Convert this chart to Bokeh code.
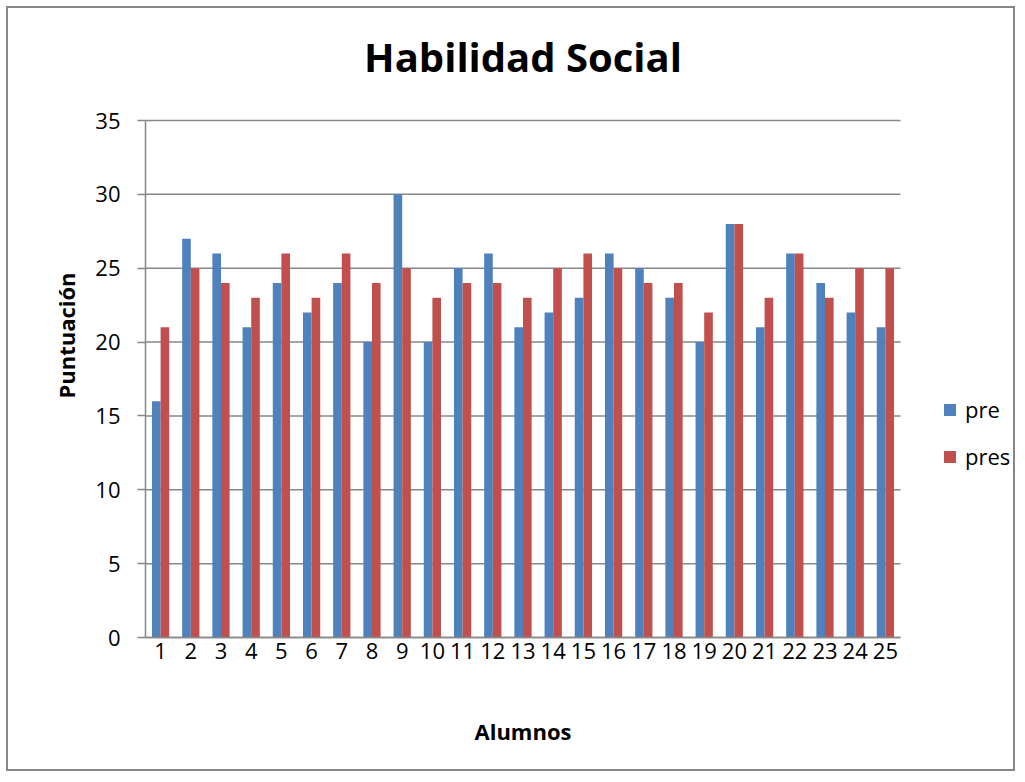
import math
import numpy as np
from bokeh.plotting import figure
from bokeh.models import Range1d, Legend, LegendItem, FixedTicker, ColumnDataSource, Label
from bokeh.transform import dodge
from bokeh.embed import file_html
from bokeh.resources import INLINE

alumnos = [str(i) for i in range(1, 26)]
pre = [16, 27, 26, 21, 24, 22, 24, 20, 30, 20, 25, 26, 21, 22, 23, 26, 25, 23, 20, 28, 21, 26, 24, 22, 21]
pres = [21, 25, 24, 23, 26, 23, 26, 24, 25, 23, 24, 24, 23, 25, 26, 25, 24, 24, 22, 28, 23, 26, 23, 25, 25]
y_ticks = [0, 5, 10, 15, 20, 25, 30, 35]

title_text = "Habilidad Social"
x_title = "Alumnos"
y_title = "Puntuación"

BLUE = "#4F81BD"
RED = "#C0504D"
GRID = "#878787"
FONT = "Open Sans"

n = len(alumnos)
pos = list(np.arange(1, n + 1))
src = ColumnDataSource(dict(pos=pos, alumnos=alumnos, pre=pre, pres=pres))

# Layout: the plot frame covers the whole canvas; axes are pinned at x=0.5 / y=0.
W, H = 1009, 765
ORIGIN = 8                      # canvas top-left in page pixels
AX_L, AX_R = 145, 900           # page x of category axis ends
AX_T, AX_B = 120, 637           # page y of 35 and 0
ymax = y_ticks[-1]
xpx = (AX_R - AX_L) / n
ypx = (AX_B - AX_T) / ymax
x0 = 0.5 - (AX_L - ORIGIN) / xpx
y0 = -(ORIGIN + H - AX_B) / ypx

def px_x(px):
    return 0.5 + (px - AX_L) / xpx

def px_y(py):
    return (AX_B - py) / ypx

p = figure(x_range=Range1d(x0, x0 + W / xpx), y_range=Range1d(y0, y0 + H / ypx),
           width=W, height=H, output_backend="svg", toolbar_location=None,
           min_border_left=0, min_border_right=0, min_border_top=0, min_border_bottom=0)
p.styles = {"border": "2px solid #878787", "margin": "6px 0 0 6px"}
p.outline_line_color = None
p.background_fill_color = "white"
p.border_fill_color = "white"
p.title.visible = False

bw = 1.0 / 3.5
r1 = p.vbar(x=dodge("pos", -bw / 2), top="pre", width=bw, source=src,
            fill_color=BLUE, line_color=None)
r2 = p.vbar(x=dodge("pos", bw / 2), top="pres", width=bw, source=src,
            fill_color=RED, line_color=None)

p.xgrid.visible = False
p.ygrid.visible = False
p.segment(x0=0.5, x1=n + 0.5, y0=y_ticks, y1=y_ticks, line_color=GRID, line_width=1.5, level="underlay")

yax = p.yaxis[0]
yax.fixed_location = 0.5
yax.bounds = (0, ymax)
yax.ticker = FixedTicker(ticks=y_ticks)
yax.minor_tick_line_color = None
yax.major_tick_out = 8
yax.major_tick_in = 0
yax.major_tick_line_color = GRID
yax.major_tick_line_width = 1.5
yax.axis_line_color = GRID
yax.axis_line_width = 1.5
yax.major_label_text_font = FONT
yax.major_label_text_font_size = "22px"
yax.major_label_text_color = "black"
yax.major_label_standoff = 17

xax = p.xaxis[0]
xax.fixed_location = 0
xax.bounds = (0.5, n + 0.5)
xax.ticker = FixedTicker(ticks=pos)
xax.major_label_overrides = {int(k): v for k, v in zip(pos, alumnos)}
xax.minor_tick_line_color = None
xax.major_tick_out = 0
xax.major_tick_in = 0
xax.axis_line_color = GRID
xax.axis_line_width = 1.5
xax.major_label_text_font = FONT
xax.major_label_text_font_size = "22px"
xax.major_label_text_color = "black"
xax.major_label_standoff = 5

p.add_layout(Label(x=px_x(522.5), y=px_y(56), text=title_text, text_align="center",
                   text_baseline="alphabetic", text_font=FONT, text_font_size="40px",
                   text_font_style="bold", text_color="black"))
p.add_layout(Label(x=px_x(522.5), y=px_y(730), text=x_title, text_align="center",
                   text_baseline="alphabetic", text_font=FONT, text_font_size="22px",
                   text_font_style="bold", text_color="black"))
p.add_layout(Label(x=px_x(65), y=px_y(335), text=y_title, text_align="center",
                   text_baseline="alphabetic", angle=math.pi / 2, text_font=FONT,
                   text_font_size="22px", text_font_style="bold", text_color="black"))

legend = Legend(items=[LegendItem(label="pre", renderers=[r1]), LegendItem(label="pres", renderers=[r2])],
                location=(942 - ORIGIN, ORIGIN + H - 471), padding=0, margin=0, spacing=17,
                glyph_width=15, glyph_height=15, label_height=24, label_standoff=8,
                label_text_font=FONT, label_text_font_size="22px", label_text_color="black",
                border_line_color=None, background_fill_alpha=0)
p.add_layout(legend)

open("out.html", "w").write(file_html(p, INLINE))
